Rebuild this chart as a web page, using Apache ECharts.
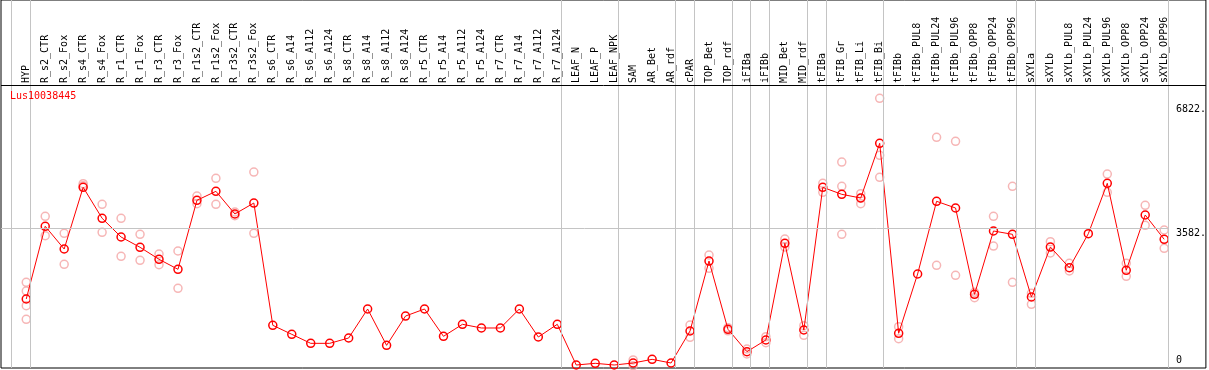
<!DOCTYPE html>
<html>
<head>
<meta charset="utf-8">
<script src="https://cdn.jsdelivr.net/npm/echarts@6/dist/echarts.min.js"></script>
<style>
html, body { margin: 0; padding: 0; background: #fff; }
#chart { width: 1209px; height: 370px; }
</style>
</head>
<body>
<div id="chart"></div>
<script>
var categories = ['HYP', 'R_s2_CTR', 'R_s2_Fox', 'R_s4_CTR', 'R_s4_Fox', 'R_r1_CTR', 'R_r1_Fox', 'R_r3_CTR', 'R_r3_Fox',
    'R_r1s2_CTR', 'R_r1s2_Fox', 'R_r3s2_CTR', 'R_r3s2_Fox', 'R_s6_CTR', 'R_s6_A14', 'R_s6_A112', 'R_s6_A124',
    'R_s8_CTR', 'R_s8_A14', 'R_s8_A112', 'R_s8_A124', 'R_r5_CTR', 'R_r5_A14', 'R_r5_A112', 'R_r5_A124',
    'R_r7_CTR', 'R_r7_A14', 'R_r7_A112', 'R_r7_A124', 'LEAF_N', 'LEAF_P', 'LEAF_NPK', 'SAM', 'AR_Bet', 'AR_rdf',
    'cPAR', 'TOP_Bet', 'TOP_rdf', 'iFIBa', 'iFIBb', 'MID_Bet', 'MID_rdf', 'tFIBa', 'tFIB_Gr', 'tFIB_Li', 'tFIB_Bi',
    'tFIBb', 'tFIBb_PUL8', 'tFIBb_PUL24', 'tFIBb_PUL96', 'tFIBb_OPP8', 'tFIBb_OPP24', 'tFIBb_OPP96',
    'sXYLa', 'sXYLb', 'sXYLb_PUL8', 'sXYLb_PUL24', 'sXYLb_PUL96', 'sXYLb_OPP8', 'sXYLb_OPP24', 'sXYLb_OPP96'];

// mean expression per sample
var means = [1739, 3634, 3042, 4651, 3843, 3355, 3087, 2774, 2513, 4312, 4546, 3955, 4241,
    1053, 818, 583, 583, 722, 1478, 531, 1295, 1478, 766, 1079, 983, 983, 1478, 748, 1079,
    18, 62, 18,
    70, 166, 70,
    905, 2729, 949, 365, 670, 3191, 931,
    4651, 4468, 4372, 5798,
    845, 2391, 4286, 4111, 1861, 3512, 3425,
    1791, 3094, 2555, 3441, 4755, 2487, 3929, 3295];

// replicate values (only the ones visible apart from the mean)
var replicates = [
    [2174, 1947, 1564, 1210], [3895, 3389], [3451, 2643], [4745, 4692], [4207, 3478], [3843, 2852],
    [3425, 2748], [2912, 2633], [2990, 2018], [4424, 4223], [4885, 4207], [4007, 3910], [5049, 3451],
    [], [], [], [], [], [], [], [], [], [], [], [], [], [], [], [],
    [], [], [],
    [149, 0], [], [],
    [1061, 740], [2886, 2539], [990, 910], [435, 305], [756, 600], [3303, 3094], [1043, 792],
    [4755, 4520], [5310, 4677, 3425], [4484, 4223, 4365], [6971, 5485, 4911],
    [1017, 704], [], [5954, 2617], [5850, 2357], [1913, 1773], [3895, 3120], [4677, 2174],
    [1887, 1600], [3233, 2938], [2669, 2469], [], [4997, 4520], [2669, 2331], [4181, 3660], [3538, 3060]
];

// index of the last sample in each group (separator drawn just after it)
var groupEnds = [-1, 0, 28, 31, 34, 35, 37, 38, 39, 41, 42, 45, 52, 53, 60];
var yTicks = [0, 3582, 6822];
var refLine = 3582;

var mono = 'DejaVu Sans Mono';
var xMin = -1.3316, xMax = 62.2, lastSep = 60.2;
var yMin = -60, yMax = 9534, headerY = 7318;

var chart = echarts.init(document.getElementById('chart'));

var meanData = means.map(function (v, i) { return [i, v]; });
var repData = [];
replicates.forEach(function (arr, i) {
    arr.forEach(function (v) { repData.push([i, v]); });
});

var sepLines = groupEnds.map(function (k) { return { xAxis: k + 0.2 }; });
sepLines.push([{ coord: [xMin, refLine] }, { coord: [lastSep, refLine] }]);
sepLines.push([
    { coord: [xMin, headerY], lineStyle: { color: '#000', width: 1 } },
    { coord: [xMax, headerY] }
]);

var option = {
    animation: false,
    backgroundColor: '#fff',
    title: {
        text: 'Lus10038445',
        left: 10,
        top: 91,
        padding: 0,
        textStyle: { color: '#ff0000', fontFamily: mono, fontSize: 10, fontWeight: 'normal' }
    },
    grid: {
        left: 1, right: 1, top: 0, bottom: 2,
        show: true,
        borderColor: '#000',
        borderWidth: 1,
        backgroundColor: '#fff'
    },
    xAxis: {
        type: 'value',
        position: 'top',
        offset: -85,
        min: xMin,
        max: xMax,
        splitLine: { show: false },
        axisTick: { show: false },
        axisLine: { show: false },
        axisLabel: {
            customValues: categories.map(function (c, i) { return i; }),
            formatter: function (v) { return categories[Math.round(v)] || ''; },
            rotate: 90,
            margin: 2,
            color: '#000',
            fontFamily: mono,
            fontSize: 10
        }
    },
    yAxis: [{
        type: 'value',
        position: 'right',
        offset: -38,
        min: yMin,
        max: yMax,
        splitLine: { show: false },
        axisTick: { show: false },
        axisLine: { show: false },
        axisLabel: {
            customValues: yTicks.filter(function (t) { return t > 0; }),
            formatter: function (v) { return v + '.'; },
            verticalAlign: 'top',
            align: 'left',
            margin: 8,
            color: '#000',
            fontFamily: mono,
            fontSize: 10
        }
    }, {
        type: 'value',
        position: 'right',
        offset: -38,
        min: yMin,
        max: yMax,
        splitLine: { show: false },
        axisTick: { show: false },
        axisLine: { show: false },
        axisLabel: {
            customValues: yTicks.filter(function (t) { return t === 0; }),
            verticalAlign: 'bottom',
            align: 'left',
            margin: 8,
            color: '#000',
            fontFamily: mono,
            fontSize: 10
        }
    }],
    series: [
        {
            type: 'scatter',
            data: repData,
            symbol: 'circle',
            symbolSize: 8,
            z: 2,
            itemStyle: { color: 'rgba(0,0,0,0)', borderColor: '#f4a4a4', borderWidth: 1.5 },
            markLine: {
                silent: true,
                symbol: ['none', 'none'],
                label: { show: false },
                lineStyle: { color: '#c4c4c4', width: 1, type: 'solid' },
                data: sepLines
            }
        },
        {
            type: 'line',
            data: meanData,
            symbol: 'circle',
            symbolSize: 8,
            z: 3,
            itemStyle: { color: 'rgba(0,0,0,0)', borderColor: '#ff0000', borderWidth: 1.5 },
            lineStyle: { color: '#ff0000', width: 1 }
        }
    ]
};

chart.setOption(option);
</script>
</body>
</html>
